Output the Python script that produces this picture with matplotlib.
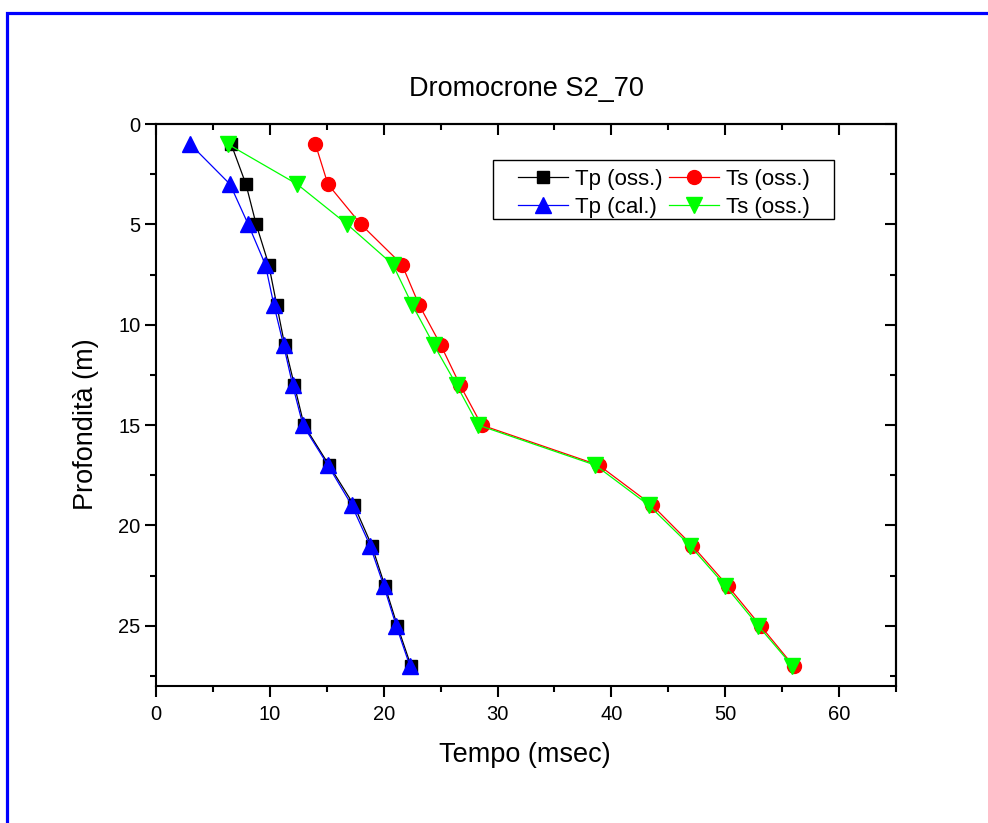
import matplotlib
matplotlib.use("Agg")
import matplotlib.pyplot as plt
from matplotlib.ticker import MultipleLocator
from matplotlib.patches import Rectangle

plt.rcParams['font.family'] = ['Liberation Sans', 'DejaVu Sans']

# profondita' dei geofoni (m) e tempi di arrivo (msec)
depth = [1, 3, 5, 7, 9, 11, 13, 15, 17, 19, 21, 23, 25, 27]
tp_oss = [6.6, 7.9, 8.8, 9.9, 10.6, 11.3, 12.15, 13.0, 15.2, 17.4, 18.95, 20.1, 21.2, 22.4]
tp_cal = [3.0, 6.5, 8.1, 9.6, 10.35, 11.2, 12.0, 12.9, 15.1, 17.2, 18.8, 20.0, 21.1, 22.3]
ts_oss = [14.0, 15.1, 18.0, 21.6, 23.1, 25.0, 26.7, 28.6, 38.9, 43.6, 47.1, 50.2, 53.1, 56.0]
ts_oss2 = [6.3, 12.4, 16.8, 20.8, 22.5, 24.4, 26.4, 28.3, 38.6, 43.3, 46.9, 50.0, 52.9, 55.9]

title = "Dromocrone S2_70"
xlabel = "Tempo (msec)"
ylabel = "Profondità (m)"

W, H = 988, 823
fig = plt.figure(figsize=(W / 100, H / 100), dpi=100)
ax = fig.add_axes([156 / W, 1 - 686 / H, 740 / W, 562 / H])

# cornice blu
fig.add_artist(Rectangle((6.5 / W, -0.1), 1.2, 1.1 - 13.5 / H, transform=fig.transFigure,
                         fill=False, edgecolor='#0000ff', linewidth=2.3))

l1, = ax.plot(tp_oss, depth, color='black', lw=0.9, marker='s', ms=8.2, label='Tp (oss.)')
l3, = ax.plot(ts_oss, depth, color='#ff0000', lw=0.9, marker='o', ms=10, label='Ts (oss.)')
l2, = ax.plot(tp_cal, depth, color='#0000ff', lw=0.9, marker='^', ms=11.5, label='Tp (cal.)')
l4, = ax.plot(ts_oss2, depth, color='#00ff00', lw=0.9, marker='v', ms=11.5, label='Ts (oss.)')

ax.set_xlim(0, 65)
ax.set_ylim(28, 0)
ax.xaxis.set_major_locator(MultipleLocator(10))
ax.xaxis.set_minor_locator(MultipleLocator(5))
ax.yaxis.set_major_locator(MultipleLocator(5))
ax.yaxis.set_minor_locator(MultipleLocator(2.5))
ax.tick_params(which='both', direction='out', width=1.5, labelsize=14.5)
ax.tick_params(which='major', length=8)
ax.tick_params(which='minor', length=4.3)
ax.tick_params(axis='x', pad=6)
ax.tick_params(axis='y', pad=3)
for s in ax.spines.values():
    s.set_linewidth(1.5)

# tacche interne sui lati superiore e destro
top = ax.secondary_xaxis('top')
top.xaxis.set_major_locator(MultipleLocator(10))
top.xaxis.set_minor_locator(MultipleLocator(5))
right = ax.secondary_yaxis('right')
right.yaxis.set_major_locator(MultipleLocator(5))
right.yaxis.set_minor_locator(MultipleLocator(2.5))
for sec in (top, right):
    sec.tick_params(which='both', direction='in', width=1.5, labeltop=False, labelright=False)
    sec.tick_params(which='major', length=8)
    sec.tick_params(which='minor', length=4.3)
    for s in sec.spines.values():
        s.set_linewidth(1.5)

ax.set_title(title, fontsize=19.5, y=(686 - 96) / 562, pad=0)
ax.set_xlabel(xlabel, fontsize=19.5, va='center')
ax.set_ylabel(ylabel, fontsize=19.5, va='center')
ax.xaxis.set_label_coords(0.498, (686 - 755) / 562)
ax.yaxis.set_label_coords((86 - 156) / 740, (686 - 424) / 562)

# legenda senza cornice, il riquadro e' disegnato a parte
leg = ax.legend(handles=[l1, l2, l3, l4], ncol=2, loc='upper left',
                bbox_to_anchor=(518 / W, 1 - 169 / H), bbox_transform=fig.transFigure,
                fontsize=16, frameon=False, borderaxespad=0, borderpad=0,
                handlelength=2.25, handletextpad=0.3, columnspacing=0.3,
                labelspacing=0.32)
ax.add_artist(Rectangle((493 / W, 1 - 219 / H), 341 / W, 59 / H, transform=fig.transFigure,
                        fill=False, edgecolor='black', linewidth=1.0, zorder=6))

fig.savefig("out.png", dpi=100)
